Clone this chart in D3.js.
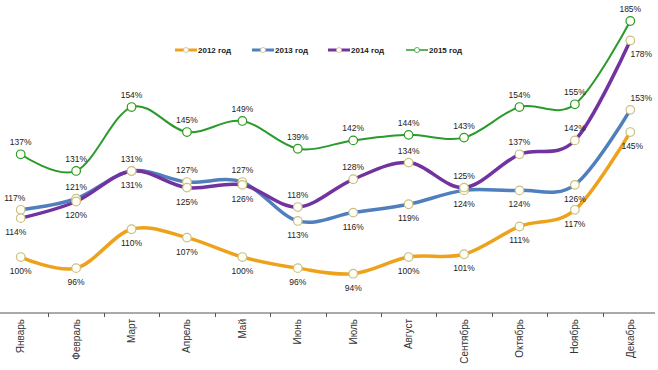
<!DOCTYPE html>
<html>
<head>
<meta charset="utf-8">
<script src="https://cdn.jsdelivr.net/npm/d3@7"></script>
<style>
  body { margin: 0; background: #fff; }
  svg { display: block; font-family: "Liberation Sans", Arial, sans-serif; }
</style>
</head>
<body>
<svg width="658" height="370"></svg>
<script>
var months = ["Январь", "Февраль", "Март", "Апрель", "Май", "Июнь", "Июль", "Август", "Сентябрь", "Октябрь", "Ноябрь", "Декабрь"];
var seriesNames = ["2012 год", "2013 год", "2014 год", "2015 год"];
var v2012 = [100, 96, 110, 107, 100, 96, 94, 100, 101, 111, 117, 145];
var v2013 = [117, 121, 131, 127, 127, 113, 116, 119, 124, 124, 126, 153];
var v2014 = [114, 120, 131, 125, 126, 118, 128, 134, 125, 137, 142, 178];
var v2015 = [137, 131, 154, 145, 149, 139, 142, 144, 143, 154, 155, 185];

// look of each series, and where its value labels sit (a = above, b = below)
var styles = [
  {color: "#eea21b", width: 3.5, ring: "#c9bf8a", place: "bbbbbbbbbbbb"},
  {color: "#4f7fbc", width: 3.5, ring: "#c9bf8a", place: "aabaabbbbbba"},
  {color: "#7233a0", width: 3.5, ring: "#c9bf8a", place: "bbabbaaaaaab"},
  {color: "#2a9a2a", width: 2,   ring: "#2a9a2a", place: "aaaaaaaaaaaa"}
];
var shiftX = {"1-0": -6, "2-0": -5, "1-11": 11, "2-11": 11, "0-11": 2};

var svg = d3.select("svg");

var x = d3.scaleBand().domain(months).range([-7, 658]);
var y = d3.scaleLinear().domain([90, 190]).range([284.8, 7.1]);
var cx = function(m) { return x(m) + x.bandwidth() / 2; };

var data = [v2012, v2013, v2014, v2015];

// category axis
var axisY = 313;
svg.append("line")
  .attr("x1", 0).attr("x2", 655)
  .attr("y1", axisY).attr("y2", axisY)
  .attr("stroke", "#555").attr("stroke-width", 1);
months.slice(1).forEach(function(m) {
  svg.append("line")
    .attr("x1", Math.round(x(m)) + 0.5).attr("x2", Math.round(x(m)) + 0.5)
    .attr("y1", axisY).attr("y2", axisY + 4)
    .attr("stroke", "#555");
});
svg.append("g").selectAll("text").data(months).join("text")
  .attr("transform", function(m) { return "translate(" + (cx(m) + 3.5) + "," + (axisY + 6) + ") rotate(-90)"; })
  .attr("text-anchor", "end")
  .attr("font-size", 10)
  .attr("fill", "#333")
  .text(function(m) { return m; });

var line = d3.line()
  .x(function(d, i) { return cx(months[i]); })
  .y(function(d) { return y(d); })
  .curve(d3.curveCardinal.tension(0));

// lines first, then markers and labels on top
data.forEach(function(vals, s) {
  svg.append("path")
    .attr("d", line(vals))
    .attr("fill", "none")
    .attr("stroke", styles[s].color)
    .attr("stroke-width", styles[s].width)
    .attr("stroke-linejoin", "round");
});

data.forEach(function(vals, s) {
  var g = svg.append("g");
  g.selectAll("circle").data(vals).join("circle")
    .attr("cx", function(d, i) { return cx(months[i]); })
    .attr("cy", function(d) { return y(d); })
    .attr("r", 4.3)
    .attr("fill", "#fffff4")
    .attr("stroke", styles[s].ring)
    .attr("stroke-width", 1.2);
  g.selectAll("text").data(vals).join("text")
    .attr("x", function(d, i) { return cx(months[i]) + (shiftX[s + "-" + i] || 0); })
    .attr("y", function(d, i) { return styles[s].place[i] == "a" ? y(d) - 9 : y(d) + 17; })
    .attr("text-anchor", "middle")
    .attr("font-size", 8.5)
    .attr("fill", "#222")
    .text(function(d) { return d + "%"; });
});

// legend
var legendX = [175, 252, 328, 406];
var leg = svg.append("g");
seriesNames.forEach(function(name, s) {
  var lx = legendX[s], ly = 50;
  leg.append("line")
    .attr("x1", lx).attr("x2", lx + 22).attr("y1", ly).attr("y2", ly)
    .attr("stroke", styles[s].color).attr("stroke-width", s == 3 ? 1.5 : 3);
  leg.append("circle")
    .attr("cx", lx + 11).attr("cy", ly).attr("r", 2.5)
    .attr("fill", "#fff").attr("stroke", styles[s].ring).attr("stroke-width", 0.8);
  leg.append("text")
    .attr("x", lx + 23).attr("y", ly + 3)
    .attr("font-size", 8).attr("font-weight", "bold")
    .attr("fill", "#222")
    .text(name);
});
</script>
</body>
</html>
